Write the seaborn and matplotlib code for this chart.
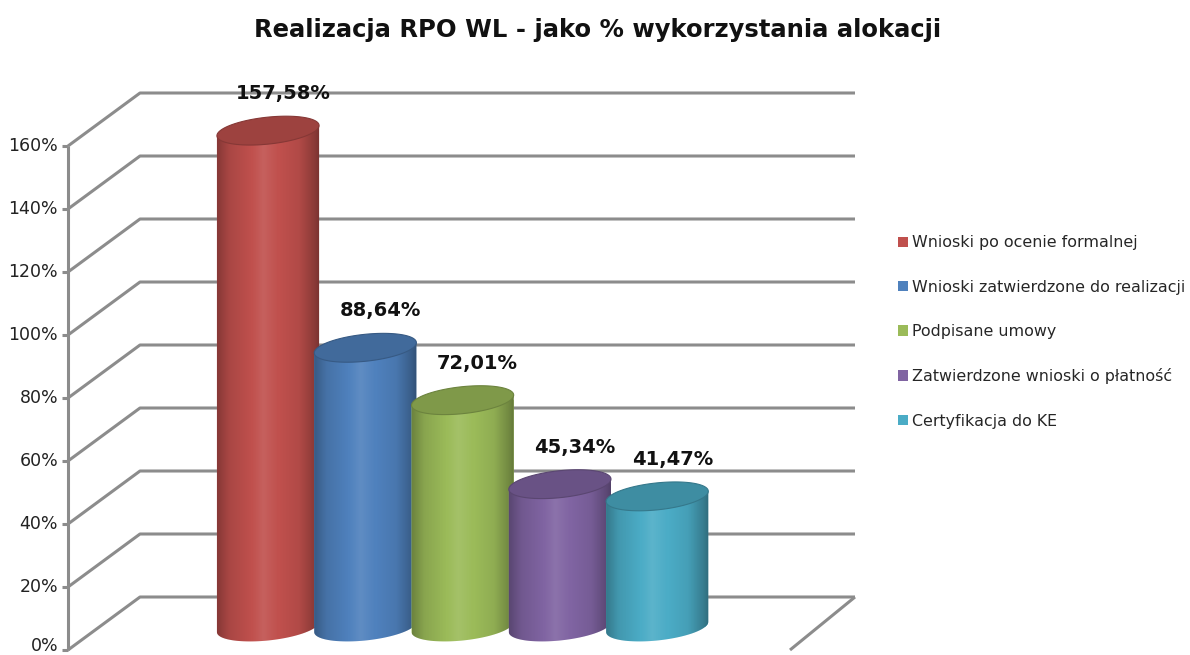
import matplotlib
matplotlib.use("Agg")
import matplotlib.pyplot as plt
import numpy as np
import pandas as pd
import seaborn as sns
from matplotlib.patches import Patch, Polygon
from matplotlib.colors import to_rgb

# Data
categories = ["Wnioski po ocenie formalnej", "Wnioski zatwierdzone do realizacji",
              "Podpisane umowy", "Zatwierdzone wnioski o płatność", "Certyfikacja do KE"]
values = [157.58, 88.64, 72.01, 45.34, 41.47]
tick_values = [0, 20, 40, 60, 80, 100, 120, 140, 160]
colors = ["#C0504D", "#4F81BD", "#9BBB59", "#8064A2", "#4BACC6"]
title = "Realizacja RPO WL - jako % wykorzystania alokacji"

sns.set_theme(style="white")
plt.rcParams["font.family"] = ["DejaVu Sans"]

# layout in pixels of the 1190x655 picture
W, H = 1190, 655
X_CAT0, PX_CAT = 268, 97.3     # px of first category centre, px per category
Y_BASE, PX_PCT = 627, 3.15     # px of 0% (middle depth), px per percent


def px_x(px):
    return (px - X_CAT0) / PX_CAT


def px_y(py):
    return (Y_BASE - py) / PX_PCT


fig = plt.figure(figsize=(W / 100, H / 100), dpi=100)
ax = fig.add_axes([0, 0, 1, 1])

df = pd.DataFrame({"kategoria": categories, "wartosc": values})
sns.barplot(data=df, x="kategoria", y="wartosc", hue="kategoria", order=categories,
            hue_order=categories, palette=colors, width=1.05, saturation=1,
            legend=False, ax=ax, zorder=3, linewidth=0, edgecolor="none")

# 3D-looking walls / gridlines
grid_kw = dict(color="#8c8c8c", lw=2.2, zorder=1, solid_capstyle="butt")
xf, xb, xbr, xfr = px_x(68), px_x(140), px_x(855), px_x(790)
front_off = px_y(650)
back_off = px_y(597)
for v in tick_values:
    ax.plot([xf, xb, xbr], [v + front_off, v + back_off, v + back_off], **grid_kw)
    ax.plot([xf - 0.06, xf], [v + front_off] * 2, **grid_kw)
    ax.text(px_x(58), max(v + front_off, px_y(646)), f"{v}%", ha="right", va="center",
            fontsize=12.5, color="#222222")
ax.plot([xbr, xfr], [back_off, front_off], **grid_kw)
ax.plot([xf, xf], [front_off, tick_values[-1] + front_off], **grid_kw)

# cylinders built on the seaborn bars
eh = 27 / PX_PCT
tilt = (10 / PX_PCT) / (100 / PX_CAT)
shade_t = [0, 0.12, 0.45, 0.8, 0.95, 1]
shade_f = [0.70, 0.88, 1.06, 0.92, 0.72, 0.62]
bars = sorted(ax.patches, key=lambda p: p.get_x())
for i, (p, col, v) in enumerate(zip(bars, colors, values)):
    x0, w, h = p.get_x(), p.get_width(), p.get_height()
    xc = x0 + w / 2
    z = 3 + i * 0.1
    rgb = np.array(to_rgb(col))

    th = np.linspace(np.pi, 2 * np.pi, 60)
    bx = xc + w / 2 * np.cos(th)
    by = eh / 2 * np.sin(th) + tilt * (bx - xc)
    side = np.vstack([[x0, h - tilt * w / 2]] + list(zip(bx, by)) + [[x0 + w, h + tilt * w / 2]])
    side_patch = Polygon(side, closed=True, facecolor=col, edgecolor="none", zorder=z)
    ax.add_patch(side_patch)
    p.set_zorder(z + 0.01)
    p.set_clip_path(side_patch)

    t = np.linspace(0, 1, 200)
    f = np.interp(t, shade_t, shade_f)
    img = np.zeros((1, len(t), 4))
    dark = f < 1
    img[0, dark, 3] = 1 - f[dark]
    img[0, ~dark, :3] = 1
    img[0, ~dark, 3] = (f[~dark] - 1) * 1.6
    im = ax.imshow(img, extent=[x0, x0 + w, by.min(), h + tilt * w / 2],
                   aspect="auto", zorder=z + 0.02, interpolation="bilinear")
    im.set_clip_path(side_patch)

    theta = np.linspace(0, 2 * np.pi, 120)
    tx = xc + w / 2 * np.cos(theta)
    ty = h + eh / 2 * np.sin(theta) + tilt * (tx - xc)
    top = Polygon(np.column_stack([tx, ty]), closed=True, facecolor=rgb * 0.82,
                  edgecolor=rgb * 0.7, lw=0.8, zorder=z + 0.03)
    ax.add_patch(top)

    label = f"{v:.2f}".replace(".", ",") + "%"
    ax.text(xc + 15 / PX_CAT, h + 37 / PX_PCT, label, ha="center", va="center",
            fontsize=14, fontweight="bold", color="#111111", zorder=10)

fig.text(598 / W, 1 - 30 / H, title, ha="center", va="center",
         fontsize=17.5, fontweight="bold", color="#111111")

handles = [Patch(facecolor=c, edgecolor="none") for c in colors]
fig.legend(handles, categories, loc="center left", bbox_to_anchor=(898 / W, 1 - 332 / H),
           frameon=False, fontsize=11.4, handlelength=0.65, handleheight=0.65,
           handletextpad=0.25, labelspacing=1.85, borderpad=0, borderaxespad=0)

ax.set_xlim(px_x(0), px_x(W))
ax.set_ylim(px_y(H), px_y(0))
ax.axis("off")

fig.savefig("out.png", dpi=100)
